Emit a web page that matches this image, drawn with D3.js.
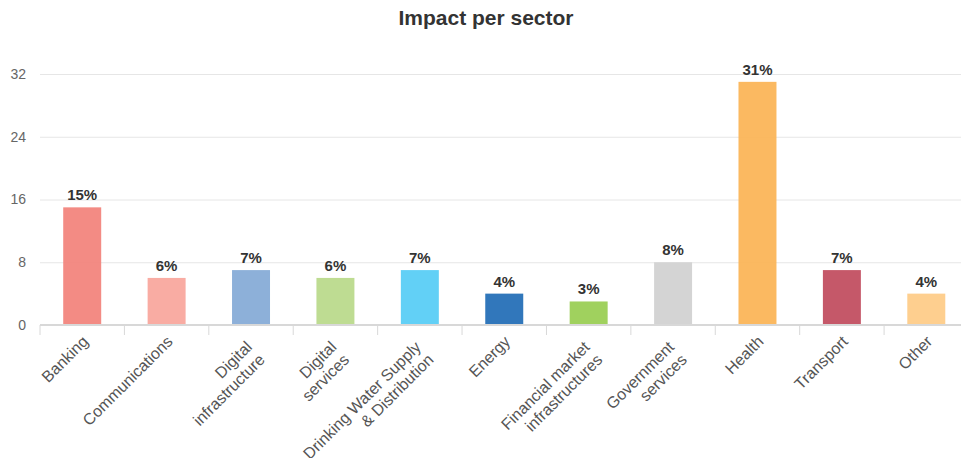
<!doctype html>
<html>
  <head>
    <meta charset="utf-8">
    <script src="https://cdn.jsdelivr.net/npm/d3@7"></script>
    <style>
    body { margin: 0; background: #fff; }
    .chart { font-family: 'Liberation Sans', Arial, sans-serif; }
    #title { font-size: 21px; font-weight: 700; fill: #333; }
    .y-axis .tick text { font-size: 14px; fill: #666; }
    .x-label { font-size: 16px; fill: #555; }
    .value-label { font-size: 15px; font-weight: 700; fill: #333; }
    </style>
  </head>
  <body>
    <svg class="chart"></svg>
  <script>

    const sectors = ["Banking", "Communications", "Digital\ninfrastructure", "Digital\nservices",
                     "Drinking Water Supply\n& Distribution", "Energy", "Financial market\ninfrastructures",
                     "Government\nservices", "Health", "Transport", "Other"]
    const impact = [15, 6, 7, 6, 7, 4, 3, 8, 31, 7, 4]
    const barColors = ["#f2857d", "#f9a89e", "#87acd7", "#bada8c", "#5acef5", "#2670b7",
                       "#9bcf55", "#d2d2d2", "#fbb558", "#c24f61", "#fecc89"]
    const yTicks = [0, 8, 16, 24, 32]

    const W = 961, H = 458
    const plotLeft = 40, plotRight = 968.5, plotTop = 74, plotBottom = 325

    const svg = d3.select(".chart")
                  .attr("width", W)
                  .attr("height", H)

    const xScale = d3.scaleBand()
                     .domain(sectors)
                     .range([plotLeft, plotRight])
                     .paddingInner(0.55)
                     .paddingOuter(0.275)

    const yScale = d3.scaleLinear()
                     .domain([0, 32])
                     .range([plotBottom, plotTop])

    svg.append("text")
        .attr("id", "title")
        .attr("x", 486)
        .attr("y", 25)
        .attr("text-anchor", "middle")
        .text("Impact per sector")

    // gridlines + y labels
    const yAxis = d3.axisLeft(yScale)
                    .tickValues(yTicks)
                    .tickSize(-(W - plotLeft))
                    .tickPadding(14)

    svg.append("g")
        .attr("class", "y-axis")
        .attr("transform", "translate(" + plotLeft + ",0)")
        .call(yAxis)
        .call(g => g.select(".domain").remove())
        .call(g => g.selectAll(".tick line").attr("stroke", "#e6e6e6"))

    // bars
    svg.selectAll(".bar")
        .data(sectors)
        .enter().append("rect")
          .attr("class", "bar")
          .attr("x", d => xScale(d))
          .attr("y", (d, i) => yScale(impact[i]))
          .attr("width", xScale.bandwidth())
          .attr("height", (d, i) => yScale(0) - yScale(impact[i]))
          .attr("fill", (d, i) => barColors[i])
          .attr("fill-opacity", 0.95)

    svg.selectAll(".value-label")
        .data(sectors)
        .enter().append("text")
          .attr("class", "value-label")
          .attr("x", d => xScale(d) + xScale.bandwidth() / 2)
          .attr("y", (d, i) => yScale(impact[i]) - 7)
          .attr("text-anchor", "middle")
          .text((d, i) => impact[i] + "%")

    // x axis line and tick marks at band edges
    const step = xScale.step()
    const edges = d3.range(sectors.length + 1).map(i => plotLeft + i * step)

    svg.append("line")
        .attr("x1", plotLeft).attr("x2", W)
        .attr("y1", plotBottom).attr("y2", plotBottom)
        .attr("stroke", "#d8d8d8")
        .attr("stroke-width", 2)

    svg.selectAll(".x-tick")
        .data(edges)
        .enter().append("line")
          .attr("class", "x-tick")
          .attr("x1", d => d).attr("x2", d => d)
          .attr("y1", plotBottom).attr("y2", plotBottom + 10)
          .attr("stroke", "#d8d8d8")

    // rotated category labels
    const labels = svg.selectAll(".x-label")
        .data(sectors)
        .enter().append("text")
          .attr("class", "x-label")
          .attr("text-anchor", "end")
          .attr("transform", d => {
            let c = xScale(d) + xScale.bandwidth() / 2
            let multi = d.indexOf("\n") >= 0
            let x = multi ? c + 2 : c + 7
            let y = multi ? plotBottom + 23 : plotBottom + 17.5
            return "translate(" + x + "," + y + ") rotate(-45)"
          })

    labels.selectAll("tspan")
        .data(d => d.split("\n"))
        .enter().append("tspan")
          .attr("x", 0)
          .attr("dy", (d, i) => i === 0 ? 0 : 18)
          .text(d => d)

  </script>
  </body>
</html>
